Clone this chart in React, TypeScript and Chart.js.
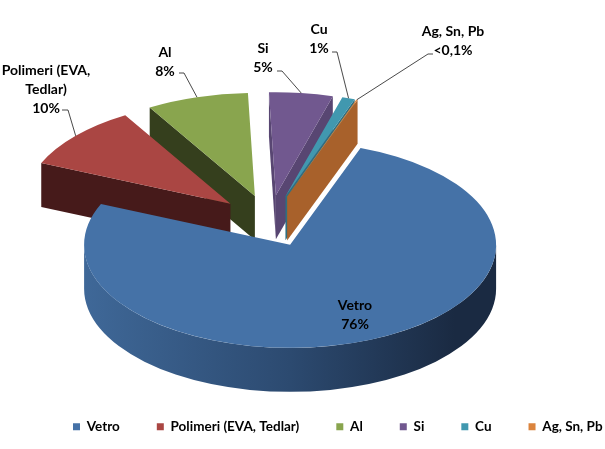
import React, { useEffect, useRef } from "react";
import { Chart, registerables } from "chart.js";

Chart.register(...registerables);

// ---- data ----
const categories = ["Vetro", "Polimeri (EVA, Tedlar)", "Al", "Si", "Cu", "Ag, Sn, Pb"];
const shares = [76, 10, 8, 5, 1, 0.1];
const labelLines = [["Vetro"], ["Polimeri (EVA,", "Tedlar)"], ["Al"], ["Si"], ["Cu"], ["Ag, Sn, Pb"]];
const percentTexts = ["76%", "10%", "8%", "5%", "1%", "<0,1%"];

// ---- style ----
const topColors = ["#4572A7", "#AA4643", "#89A54E", "#71588F", "#4198AF", "#DB843D"];
const faceColors = ["#2C4A70", "#461A1A", "#353F1D", "#584672", "#2F6F80", "#A8612B"];
const wallLight = ["#3F6898", "#7A2C2A", "#5C7034", "#4E3D63", "#2E6A7A", "#9A5A26"];
const wallDark = ["#1A2A42", "#3A1414", "#2A3216", "#2E243C", "#1A3C46", "#5A3416"];

const VIEW = { cx: 269.5, cy: 221, tilt: 0.5, depth: 44, explode: 52, radius: 206 };
const FONT = "bold 14px Lato";
const LINE_H = 19;
const LEGEND_START_X = 73;
const LABELS: { x: number; y: number; leader: number[][] | null }[] = [
  { x: 355, y: 305, leader: null },
  { x: 46, y: 70, leader: [[62, 110], [68, 110]] },
  { x: 165, y: 52, leader: [[179, 73], [184, 73]] },
  { x: 263, y: 48, leader: [[277, 71], [282, 71]] },
  { x: 319, y: 29, leader: [[332, 52], [337, 52]] },
  { x: 453, y: 31, leader: [[433, 54], [428, 54]] },
];

function sliceGeometry(chart: any) {
  const meta = chart.getDatasetMeta(0);
  const arcs = meta.data as any[];
  const ox = arcs[0].x;
  const oy = arcs[0].y;
  const items = arcs.map((arc: any, i: number) => {
    const p = arc.getProps(["startAngle", "endAngle", "outerRadius", "x", "y"], true);
    const mid = (p.startAngle + p.endAngle) / 2;
    return {
      arc,
      i,
      s: p.startAngle,
      e: p.endAngle,
      r: p.outerRadius,
      mid,
      dx: Math.cos(mid) * VIEW.explode,
      dy: Math.sin(mid) * VIEW.explode,
      x: p.x + Math.cos(mid) * VIEW.explode,
      y: p.y + Math.sin(mid) * VIEW.explode,
    };
  });
  return { items, ox, oy };
}

const pie3d = {
  id: "pie3d",
  afterLayout(chart: any) {
    const lg = chart.legend;
    if (lg) {
      const w = lg.right - lg.left;
      lg.left = LEGEND_START_X - lg.options.labels.padding;
      lg.right = lg.left + w;
    }
  },
  beforeDatasetsDraw(chart: any) {
    const ctx: CanvasRenderingContext2D = chart.ctx;
    const { items, ox, oy } = sliceGeometry(chart);
    const d = VIEW.depth / VIEW.tilt;
    ctx.save();
    ctx.translate(VIEW.cx, VIEW.cy);
    ctx.scale(1, VIEW.tilt);
    ctx.translate(-ox, -oy);
    const order = [...items].sort((a, b) => Math.sin(a.mid) - Math.sin(b.mid));

    const quad = (x: number, y: number, r: number, a: number, color: string) => {
      ctx.beginPath();
      ctx.moveTo(x, y);
      ctx.lineTo(x + r * Math.cos(a), y + r * Math.sin(a));
      ctx.lineTo(x + r * Math.cos(a), y + r * Math.sin(a) + d);
      ctx.lineTo(x, y + d);
      ctx.closePath();
      ctx.fillStyle = color;
      ctx.fill();
    };

    for (const it of order) {
      for (let k = -1; k <= 1; k++) {
        const lo = Math.max(it.s, 2 * Math.PI * k);
        const hi = Math.min(it.e, Math.PI + 2 * Math.PI * k);
        if (hi > lo) {
          const g = ctx.createLinearGradient(it.x - it.r, 0, it.x + it.r, 0);
          g.addColorStop(0, wallLight[it.i]);
          g.addColorStop(0.5, faceColors[it.i]);
          g.addColorStop(0.9, wallDark[it.i]);
          g.addColorStop(1, wallDark[it.i]);
          ctx.beginPath();
          ctx.arc(it.x, it.y, it.r, lo, hi);
          ctx.arc(it.x, it.y + d, it.r, hi, lo, true);
          ctx.closePath();
          ctx.fillStyle = g;
          ctx.fill();
        }
      }
      if (Math.cos(it.s) < 0) quad(it.x, it.y, it.r, it.s, faceColors[it.i]);
      if (Math.cos(it.e) > 0) quad(it.x, it.y, it.r, it.e, faceColors[it.i]);
    }
    for (const it of order) {
      ctx.save();
      ctx.translate(it.dx, it.dy);
      it.arc.draw(ctx);
      ctx.restore();
    }
    ctx.restore();
    return false;
  },
  afterDraw(chart: any) {
    const ctx: CanvasRenderingContext2D = chart.ctx;
    const { items, ox, oy } = sliceGeometry(chart);
    const toScreen = (px: number, py: number) => [
      VIEW.cx + (px - ox),
      VIEW.cy + VIEW.tilt * (py - oy),
    ];
    ctx.save();
    ctx.font = FONT;
    ctx.textAlign = "center";
    ctx.textBaseline = "middle";
    ctx.fillStyle = "#000";
    items.forEach((it) => {
      const lab = LABELS[it.i];
      const lines = [...labelLines[it.i], percentTexts[it.i]];
      lines.forEach((t, j) => ctx.fillText(t, lab.x, lab.y + j * LINE_H));
      if (lab.leader) {
        const [ex, ey] = toScreen(it.x + it.r * Math.cos(it.mid), it.y + it.r * Math.sin(it.mid));
        ctx.beginPath();
        ctx.moveTo(lab.leader[0][0], lab.leader[0][1]);
        ctx.lineTo(lab.leader[1][0], lab.leader[1][1]);
        ctx.lineTo(ex, ey);
        ctx.strokeStyle = "#1a1a1a";
        ctx.lineWidth = 0.8;
        ctx.stroke();
      }
    });
    ctx.restore();
  },
};

export default function App() {
  const ref = useRef<HTMLCanvasElement>(null);
  useEffect(() => {
    const chart = new Chart(ref.current as HTMLCanvasElement, {
      type: "pie",
      data: {
        labels: categories,
        datasets: [
          {
            data: shares,
            backgroundColor: topColors,
            borderWidth: 0,
          },
        ],
      },
      options: {
        responsive: false,
        animation: false,
        rotation: 20,
        radius: VIEW.radius,
        layout: { padding: { left: -30, right: -30, bottom: 5.5 } },
        plugins: {
          tooltip: { enabled: false },
          legend: {
            position: "bottom",
            align: "start",
            labels: {
              boxWidth: 7,
              boxHeight: 7,
              padding: 37,
              color: "#000",
              font: { family: "Lato", size: 13.5, weight: "bold" },
            },
          },
        },
      } as any,
      plugins: [pie3d as any],
    });
    return () => chart.destroy();
  }, []);
  return (
    <div style={{ position: "absolute", left: 0, top: 0, width: 605, height: 449, background: "#fff" }}>
      <canvas ref={ref} width={605} height={449} style={{ display: "block", width: 605, height: 449 }} />
    </div>
  );
}
